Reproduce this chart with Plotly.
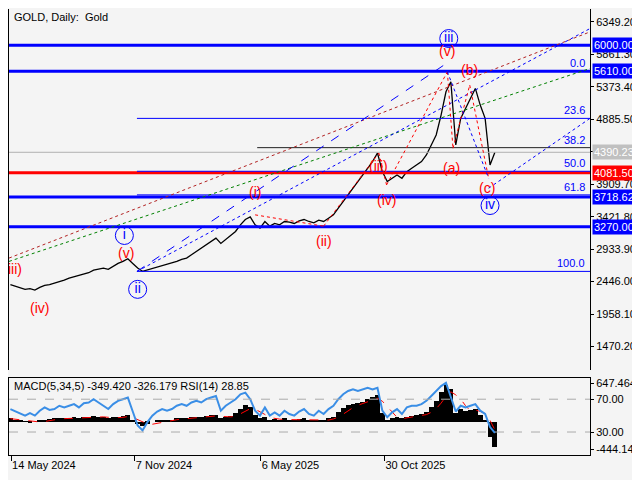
import pandas as pd
import plotly.graph_objects as go

# weekly closes
start = "2024-05-13"
close = [2400, 2380, 2350, 2330, 2340, 2320, 2360, 2390, 2400,
         2420, 2450, 2470, 2500, 2520, 2540, 2560, 2580,
         2620, 2640, 2650, 2630, 2680, 2720, 2750, 2790,
         2720, 2650, 2600, 2620,
         2650, 2660, 2680, 2700, 2720, 2750, 2780, 2800, 2850, 2900, 2950, 3000,
         3050, 3100, 3020, 3080, 3150, 3200, 3300, 3380, 3420,
         3300, 3250, 3350, 3280, 3320, 3300, 3350, 3340, 3320, 3360,
         3380, 3350, 3330, 3370, 3350, 3400, 3450, 3550, 3650,
         3750, 3850, 3950, 4050, 4150, 4250, 4380,
         4100, 3950, 4000, 4050,
         4000, 4100, 4150, 4200, 4250, 4350, 4500, 4650,
         4950, 5300, 5450, 4500, 4900,
         5050, 5200, 5350, 5100, 4900, 4200,
         4390]
hist = [60, 40, 30, 10, -10, 0, 20, 40, 50,
        60, 70, 60, 70, 80, 70, 80, 90,
        100, 90, 80, 60, 80, 90, 100, 110,
        20, -40, -60, -30,
        0, 20, 30, 40, 40, 60, 70, 70, 80, 90, 90, 100,
        110, 120, 60, 80, 100, 150, 220, 280, 250,
        120, 60, 90, 40, 50, 30, 60, 40, 30, 50,
        60, 40, 20, 40, 30, 60, 90, 160, 230,
        280, 300, 320, 340, 380, 420, 450,
        150, 40, 60, 80,
        60, 90, 100, 110, 130, 170, 250, 350,
        500, 620, 550, 150, 220,
        180, 200, 220, 120, 40, -250,
        -420]
rsi = [58, 55, 52, 50, 53, 50, 56, 60, 57,
       58, 62, 60, 62, 64, 60, 65, 66,
       70, 66, 62, 58, 64, 68, 70, 72,
       55, 38, 32, 42,
       50, 55, 58, 56, 58, 62, 64, 62, 66, 68, 66, 70,
       72, 74, 56, 62, 66, 70, 76, 78, 70,
       56, 50, 60, 50, 54, 50, 56, 52, 50, 55,
       58, 52, 50, 56, 52, 58, 62, 70, 76,
       80, 82, 80, 82, 84, 82, 84,
       56, 48, 54, 58,
       52, 60, 62, 62, 64, 68, 74, 80,
       86, 90, 72, 55, 62,
       60, 62, 64, 56, 52, 36,
       29]

dates = pd.date_range(start, periods=len(close), freq="7D")
signal = pd.Series(hist).rolling(4, min_periods=1).mean()

price_ticks = [6349.20, 5861.30, 5373.40, 4885.50, 4397.60, 3909.70, 3421.80, 2933.90, 2446.00, 1958.10, 1470.20]
levels = [(6000.00, "blue", 3), (5610.00, "blue", 3), (4081.50, "red", 3), (3718.62, "blue", 3), (3270.00, "blue", 3)]
fib_levels = [(5610, "0.0"), (4900, "23.6"), (4460, "38.2"), (4105, "50.0"), (3750, "61.8"), (2600, "100.0")]
last_price = 4390.23

x0, x1 = pd.Timestamp("2024-05-11"), pd.Timestamp("2026-08-20")
FONT = "Liberation Sans"

fig = go.Figure()
fig.add_trace(go.Scatter(x=dates, y=close, mode="lines", line=dict(color="black", width=1.3),
                         xaxis="x", yaxis="y", hoverinfo="skip"))
fig.add_trace(go.Bar(x=dates, y=hist, marker_color="black", marker_line_width=0, width=7*86400000,
                     xaxis="x", yaxis="y2"))
fig.add_trace(go.Scatter(x=dates, y=signal, mode="lines", line=dict(color="red", width=1, dash="dash"),
                         xaxis="x", yaxis="y2"))
fig.add_trace(go.Scatter(x=dates, y=rsi, mode="lines", line=dict(color="#3a8ee6", width=2),
                         xaxis="x", yaxis="y3"))

shapes = []
for lv, col, w in levels:
    shapes.append(dict(type="line", xref="x", yref="y", x0=x0, x1=x1, y0=lv, y1=lv, line=dict(color=col, width=w)))
for lv, txt in fib_levels:
    if lv in (5610,):
        continue
    col = "#222" if txt == "38.2" else "blue"
    shapes.append(dict(type="line", xref="x", yref="y", x0="2024-11-10" if txt != "38.2" else "2025-05-01",
                       x1=x1, y0=lv, y1=lv, line=dict(color=col, width=1)))
shapes.append(dict(type="line", xref="x", yref="y", x0=x0, x1=x1, y0=last_price, y1=last_price,
                   line=dict(color="#b0b0b0", width=1)))
# trend lines
trend = [("2024-05-11", 2800, "2026-08-20", 6200, "firebrick", "dot"),
         ("2024-05-11", 2750, "2026-08-20", 5650, "green", "dot"),
         ("2024-11-10", 2600, "2026-01-30", 5750, "blue", "dash"),
         ("2024-11-10", 2600, "2026-08-20", 6250, "blue", "dot"),
         ("2026-03-28", 3850, "2026-08-20", 4900, "blue", "dot"),
         ("2025-04-28", 3450, "2025-08-04", 3280, "red", "dot"),
         ("2025-08-04", 3280, "2025-10-22", 4380, "red", "dot"),
         ("2025-10-22", 4380, "2025-11-02", 3900, "red", "dot"),
         ("2025-11-02", 3900, "2026-01-28", 5600, "red", "dot"),
         ("2026-01-28", 5600, "2026-02-05", 4450, "red", "dot"),
         ("2026-02-05", 4450, "2026-03-01", 5400, "red", "dot"),
         ("2026-03-01", 5400, "2026-03-28", 4000, "red", "dot"),
         ("2026-01-28", 5600, "2026-03-28", 4000, "blue", "dot")]
for a, b, c, d, col, dash in trend:
    shapes.append(dict(type="line", xref="x", yref="y", x0=a, y0=b, x1=c, y1=d, line=dict(color=col, width=1, dash=dash)))
for yv in (70, 30):
    shapes.append(dict(type="line", xref="x", yref="y3", x0=x0, x1=x1, y0=yv, y1=yv, line=dict(color="#aaa", width=1, dash="dash")))

ann = []
red_waves = [("2024-05-20", 2630, "iii)"), ("2024-06-24", 2050, "(iv)"), ("2024-10-25", 2880, "(v)"),
             ("2025-04-28", 3790, "(i)"), ("2025-08-04", 3060, "(ii)"), ("2025-10-22", 4190, "(iii)"),
             ("2025-11-02", 3670, "(iv)"), ("2026-01-28", 5920, "(v)"), ("2026-03-01", 5630, "(b)"),
             ("2026-02-03", 4160, "(a)"), ("2026-03-26", 3860, "(c)")]
for d, p, t in red_waves:
    ann.append(dict(x=d, y=p, xref="x", yref="y", text=t, showarrow=False, font=dict(color="red", size=14, family=FONT)))
blue_waves = [("2024-10-23", 3140, "i"), ("2024-11-11", 2330, "ii"), ("2026-01-30", 6100, "iii"), ("2026-03-30", 3590, "iv")]
fig.add_trace(go.Scatter(x=[b[0] for b in blue_waves], y=[b[1] for b in blue_waves], mode="markers+text",
                         text=[b[2] for b in blue_waves], textposition="middle center",
                         textfont=dict(color="blue", size=14, family=FONT),
                         marker=dict(symbol="circle-open", size=18, color="blue", line=dict(width=1)),
                         xaxis="x", yaxis="y"))
for lv, txt in fib_levels:
    ann.append(dict(x=1.0, y=lv, xref="paper", yref="y", xanchor="right", yanchor="bottom", text=txt,
                    showarrow=False, font=dict(color="blue", size=11, family=FONT), xshift=-3))
boxes = [(6000.00, "blue", "white"), (5610.00, "blue", "white"), (last_price, "#c0c0c0", "white"),
         (4081.50, "red", "white"), (3718.62, "blue", "white"), (3270.00, "blue", "white")]
for lv, bg, fc in boxes:
    ann.append(dict(x=1.0, y=lv, xref="paper", yref="y", xanchor="left", text=f"{lv:.2f}", showarrow=False,
                    bgcolor=bg, font=dict(color=fc, size=11, family=FONT), borderpad=1, xshift=2))
ann.append(dict(x=0.005, y=1.0, xref="paper", yref="paper", xanchor="left", yanchor="top",
                text="GOLD, Daily:  Gold", showarrow=False, font=dict(size=11, color="black")))
ann.append(dict(x=0.005, y=0.172, xref="paper", yref="paper", xanchor="left", yanchor="top",
                text="MACD(5,34,5) -349.420 -326.179 RSI(14) 28.85", showarrow=False, font=dict(size=11, color="black")))

fig.update_layout(
    width=632, height=472, margin=dict(l=0, r=44, t=0, b=25),
    paper_bgcolor="#f4f4f4", plot_bgcolor="#f4f4f4", showlegend=False, bargap=0,
    font=dict(family=FONT, size=11, color="black"),
    shapes=shapes, annotations=ann,
    xaxis=dict(range=[x0, x1], anchor="y2", showgrid=False, showline=True, linecolor="black", mirror=True,
               tickvals=["2024-05-14", "2024-11-07", "2025-05-06", "2025-10-30"],
               ticktext=["14 May 2024", "7 Nov 2024", "6 May 2025", "30 Oct 2025"],
               ticks="outside", ticklabelposition="outside right", tickcolor="black", ticklen=5),
    yaxis=dict(domain=[0.19, 1], range=[1114, 6544], side="right", anchor="x", showgrid=False,
               tickvals=price_ticks, ticktext=[f"{v:.2f}" for v in price_ticks], ticks="outside",
               ticklen=3, tickcolor="black", showline=True, linecolor="black", mirror=True),
    yaxis2=dict(domain=[0, 0.172], range=[-543, 730], side="right", anchor="x", showgrid=False,
                tickvals=[647.464, -444.147], ticktext=["647.464", "-444.147"], ticks="outside",
                ticklen=3, tickcolor="black", showline=True, linecolor="black", mirror=True, zeroline=False),
    yaxis3=dict(overlaying="y2", range=[2, 95.5], side="right", anchor="x", showgrid=False,
                tickvals=[70, 30], ticktext=["70.00", "30.00"], ticks="outside", ticklen=3, tickcolor="black"),
)
fig.write_html("out.html")
